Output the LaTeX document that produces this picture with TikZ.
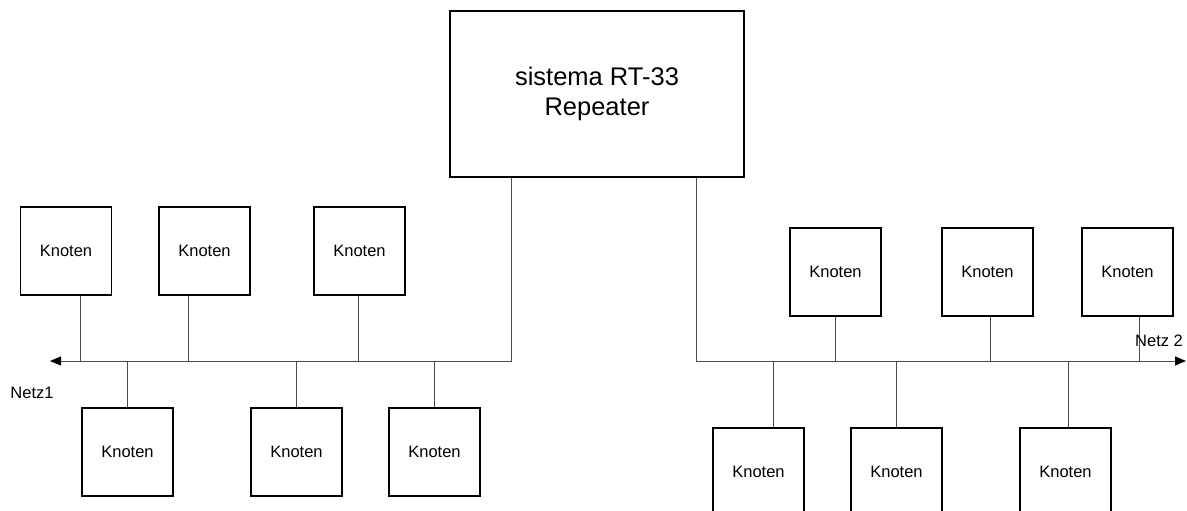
\documentclass[tikz,border=0pt]{standalone}
\usepackage{fontspec}
\setmainfont{Liberation Sans}
\usetikzlibrary{arrows.meta,calc}
\begin{document}
\begin{tikzpicture}[x=1pt,y=-1pt,
  knot/.style={draw=black,line width=1.2pt,minimum width=91pt,minimum height=88pt,inner sep=0pt,font=\fontsize{16.5}{20}\selectfont},
  wire/.style={draw=black!70,line width=1pt},
  bus/.style={wire,-{Triangle[length=11pt,width=9pt,fill=black,color=black]}},
  lbl/.style={font=\fontsize{16.5}{20}\selectfont,inner sep=0pt}]
\useasboundingbox (0,0) rectangle (1187,511);
\clip (0,0) rectangle (1187,511);
% repeater
\node[draw=black,line width=1.2pt,minimum width=294pt,minimum height=166pt,inner sep=0pt,align=center,font=\fontsize{25.5}{30}\selectfont] (rep) at (597,94) {sistema RT-33\\Repeater};
\coordinate (busL) at (50,361);
\coordinate (busR) at (1186,361);
% left net
\node[knot] (a1) at (66,251) {Knoten};
\node[knot] (a2) at (204.5,251) {Knoten};
\node[knot] (a3) at (359.5,251) {Knoten};
\node[knot] (b1) at (127.5,452) {Knoten};
\node[knot] (b2) at (296.5,452) {Knoten};
\node[knot] (b3) at (434.5,452) {Knoten};
% right net
\node[knot] (c1) at (835.5,272) {Knoten};
\node[knot] (c2) at (987.5,272) {Knoten};
\node[knot] (c3) at (1127.5,272) {Knoten};
\node[knot] (d1) at (758.5,472) {Knoten};
\node[knot] (d2) at (896.5,472) {Knoten};
\node[knot] (d3) at (1065.5,472) {Knoten};
% buses
\draw[bus] ($(rep.south west)+(62,0)$) |- (busL);
\draw[bus] ($(rep.south west)+(247,0)$) |- (busR);
% stems left
\draw[wire] ($(a1.south)+(14,0)$) -- ($(a1.south |- busL)+(14,0)$);
\draw[wire] ($(a2.south)+(-16.5,0)$) -- ($(a2.south |- busL)+(-16.5,0)$);
\draw[wire] ($(a3.south)+(-1.5,0)$) -- ($(a3.south |- busL)+(-1.5,0)$);
\draw[wire] (b1.north) -- (b1.north |- busL);
\draw[wire] (b2.north) -- (b2.north |- busL);
\draw[wire] (b3.north) -- (b3.north |- busL);
% stems right
\draw[wire] (c1.south) -- (c1.south |- busR);
\draw[wire] ($(c2.south)+(2.5,0)$) -- ($(c2.south |- busR)+(2.5,0)$);
\draw[wire] ($(c3.south)+(11.5,0)$) -- ($(c3.south |- busR)+(11.5,0)$);
\draw[wire] ($(d1.north)+(14.5,0)$) -- ($(d1.north |- busR)+(14.5,0)$);
\draw[wire] (d2.north) -- (d2.north |- busR);
\draw[wire] ($(d3.north)+(2.5,0)$) -- ($(d3.north |- busR)+(2.5,0)$);
% labels
\node[lbl] (n1) at (32,393) {Netz1};
\node[lbl] (n2) at (1159,341) {Netz 2};
\end{tikzpicture}
\end{document}
